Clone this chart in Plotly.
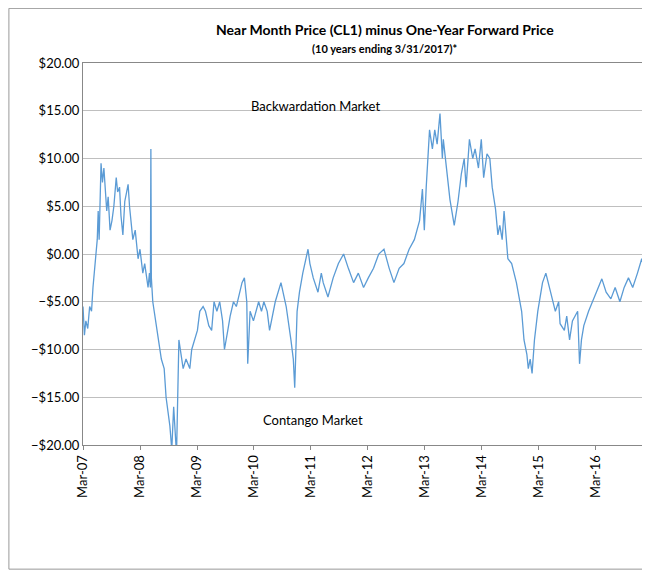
import pandas as pd
import plotly.graph_objects as go

# spread (near month minus 12-month forward)
# months since Mar-2007, value in $
pts = [
    (0, -5.5), (0.3, -8.5), (0.6, -7), (1.0, -7.8), (1.4, -5.5), (1.8, -6), (2.1, -3.5),
    (2.6, -1), (3.0, 1.5), (3.2, 4.5), (3.4, 1.5), (3.8, 9.5), (4.1, 7.5), (4.4, 9), (4.6, 7),
    (5.0, 4.5), (5.3, 6), (5.7, 2.5), (6.1, 3.5), (6.5, 5), (7.0, 8), (7.3, 6.5), (7.7, 7),
    (8.0, 4), (8.4, 2), (8.8, 5.5), (9.2, 6.5), (9.5, 7.3), (9.8, 5), (10.5, 1.5),
    (11.0, 2.5), (11.6, -0.5), (12.0, 0.5), (12.6, -2), (13.0, -1), (13.7, -3.5),
    (14.0, -2), (14.2, -3.5), (14.3, 11), (14.4, -2.5), (14.7, -5), (15.3, -7),
    (16.0, -9), (16.5, -11), (17.1, -12), (17.5, -15), (18.3, -18), (18.7, -20.5),
    (19.1, -16), (19.4, -19), (19.7, -21), (20.2, -9), (20.6, -10.5), (21.1, -12),
    (21.7, -11), (22.5, -12), (22.9, -10), (23.5, -9), (24.1, -8), (24.6, -6),
    (25.3, -5.5), (25.8, -6), (26.5, -7.5), (27.1, -8), (27.6, -5), (28.2, -6),
    (28.8, -5), (29.4, -7), (29.8, -10), (30.5, -8), (31.0, -6.5), (31.7, -5),
    (32.3, -5.5), (33.5, -3), (34.0, -2.5), (34.5, -5), (34.7, -11.5), (35.2, -6),
    (35.9, -7), (37.0, -5), (37.6, -6), (38.1, -5), (38.8, -6), (39.3, -8),
    (40.0, -6), (40.5, -5), (41.7, -3), (42.8, -5.5), (43.8, -9), (44.3, -11),
    (44.6, -14), (45.1, -6), (45.6, -4), (46.3, -2), (47.4, 0.5), (47.8, -1),
    (48.5, -2.5), (49.5, -4), (50.2, -2), (50.6, -3), (51.6, -4.5), (52.7, -2.5),
    (53.8, -1), (54.9, 0), (55.9, -1.5), (57.0, -3), (58.0, -2), (59.1, -3.5),
    (60.1, -2.5), (61.2, -1.5), (62.3, 0), (63.4, 0.5), (64.5, -1.5), (65.5, -3),
    (66.6, -1.5), (67.6, -1), (68.7, 0.5), (69.8, 1.5), (70.9, 3.5), (71.5, 6.8),
    (71.9, 2.5), (72.3, 7), (73.0, 13), (73.6, 11), (74.1, 13), (74.6, 11.5),
    (75.2, 14.7), (75.7, 10), (75.9, 12), (76.6, 9), (77.3, 5.7), (78.2, 3),
    (79.0, 5.5), (79.7, 8.4), (80.3, 10), (80.7, 7), (81.4, 12), (82.1, 10),
    (82.6, 11), (83.3, 9), (83.9, 12), (84.4, 8), (85.1, 10.5), (85.7, 10),
    (86.2, 7), (86.9, 4.7), (87.4, 2), (87.8, 3), (88.3, 1.5), (88.7, 4.5),
    (89.5, -0.5), (90.3, -1), (91.3, -3), (92.4, -6), (92.9, -9), (93.5, -10.5),
    (93.8, -12), (94.2, -11), (94.6, -12.5), (95.1, -9), (95.8, -6), (96.8, -3),
    (97.5, -2), (98.5, -4), (99.5, -6), (100.2, -5), (100.5, -7.3), (101.4, -8),
    (101.9, -6.5), (102.5, -9), (103.1, -7), (104.2, -6), (104.6, -11.5), (105.0, -9),
    (105.5, -7.5), (106.5, -6), (107.4, -5), (108.4, -3.7), (109.3, -2.6),
    (110.2, -4), (111.2, -4.7), (112.1, -3.5), (113.1, -5), (114.0, -3.5),
    (114.9, -2.5), (115.8, -3.5), (116.8, -2), (117.7, -0.5), (118.3, -1.5),
    (119.0, -2.5), (119.7, -1.5), (120.0, -1.8),
]
df = pd.DataFrame(pts, columns=['m', 'spread'])
df['date'] = pd.Timestamp('2007-03-01') + pd.to_timedelta(df['m'] * 30.44, unit='D')

fig = go.Figure(go.Scatter(x=df['date'], y=df['spread'], mode='lines',
                           line=dict(color='#5b9bd5', width=1.3), showlegend=False))

ticks = pd.date_range('2007-03-01', '2017-03-01', freq='12MS')
fig.update_xaxes(range=['2007-03-01', '2017-03-03'], tickvals=ticks,
                 ticktext=[d.strftime('%b-%y') for d in ticks], tickangle=-90,
                 showgrid=False, showline=True, linecolor='#888', mirror=True,
                 ticks='outside', tickcolor='#888', ticklen=4,
                 tickfont=dict(size=13, color='black'))
fig.update_yaxes(range=[-20, 20], dtick=5, tickformat='$,.2f', showgrid=True,
                 gridcolor='#bfbfbf', showline=True, linecolor='#888', mirror=True,
                 zeroline=False, tickfont=dict(size=13, color='black'))

fig.add_annotation(text='Backwardation Market', x='2011-04-01', y=15.5, showarrow=False,
                   font=dict(size=13, color='black'))
fig.add_annotation(text='Contango Market', x='2011-03-15', y=-17.4, showarrow=False,
                   font=dict(size=13, color='black'))
fig.add_annotation(text='<b>Near Month Price (CL1) minus One-Year Forward Price</b>',
                   xref='paper', yref='paper', x=0.53, y=1.115, showarrow=False,
                   font=dict(size=14, color='black'))
fig.add_annotation(text='<b>(10 years ending 3/31/2017)*</b>',
                   xref='paper', yref='paper', x=0.53, y=1.06, showarrow=False,
                   font=dict(size=11, color='black'))
fig.add_shape(type='rect', xref='paper', yref='paper', x0=-0.13, x1=1.005, y0=-0.325,
              y1=1.143, line=dict(color='#999', width=1))

fig.update_layout(width=650, height=573, margin=dict(l=75, r=5, t=55, b=136),
                  plot_bgcolor='white', paper_bgcolor='white',
                  font=dict(family='Lato, Liberation Sans, sans-serif'))
fig.write_html('out.html')
